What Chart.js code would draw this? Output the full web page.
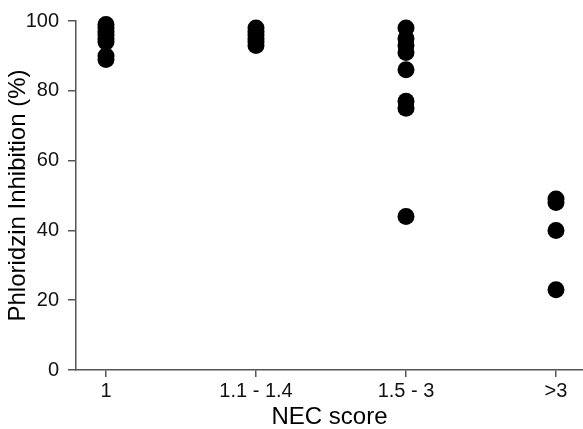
<!DOCTYPE html>
<html lang="en">
<head>
    <meta charset="UTF-8">
    <title>Phloridzin Inhibition vs NEC score</title>
    <script src="https://cdn.jsdelivr.net/npm/chart.js"></script>
    <style>
        html, body { margin: 0; padding: 0; background: #fff; }
        #wrap { width: 583px; height: 429px; }
    </style>
</head>
<body>
    <div id="wrap"><canvas id="grafico"></canvas></div>
<script>
    // categories on the x axis and the inhibition values (%) read for each group
    const categories = ["1", "1.1 - 1.4", "1.5 - 3", ">3"];
    const nec1 = [99, 98, 97, 96, 95, 94, 90, 89];
    const nec2 = [98, 97, 96, 95, 94, 93];
    const nec3 = [98, 95, 93, 91, 86, 77, 75, 44];
    const nec4 = [49, 48, 40, 23];
    const yTicks = [0, 20, 40, 60, 80, 100];

    const groups = [nec1, nec2, nec3, nec4];
    const points = [];
    groups.forEach((vals, i) => {
        vals.forEach(v => points.push({ x: i + 1, y: v }));
    });

    const axisColor = "#555";
    const ctx = document.getElementById("grafico").getContext("2d");

    new Chart(ctx, {
        type: "scatter",
        data: {
            datasets: [{
                data: points,
                backgroundColor: "#000",
                borderColor: "#000",
                borderWidth: 0,
                pointRadius: 8.5,
                pointHoverRadius: 8.5,
                clip: false
            }]
        },
        options: {
            responsive: true,
            maintainAspectRatio: false,
            animation: false,
            layout: { autoPadding: false, padding: { top: 20, right: 0, left: 0, bottom: 0 } },
            plugins: {
                legend: { display: false },
                tooltip: { enabled: false }
            },
            scales: {
                x: {
                    type: "linear",
                    min: 0.8,
                    max: 4.18,
                    afterFit: s => { s.height = 59; },
                    afterBuildTicks: s => { s.ticks = categories.map((c, i) => ({ value: i + 1 })); },
                    ticks: {
                        callback: v => categories[v - 1],
                        color: "#111",
                        padding: 2,
                        maxRotation: 0,
                        font: { family: "Liberation Sans, Arial, sans-serif", size: 20 }
                    },
                    grid: { drawOnChartArea: false, drawTicks: true, tickLength: 7, color: axisColor, lineWidth: 1.5 },
                    border: { display: true, color: axisColor, width: 1.5 },
                    title: {
                        display: true,
                        text: "NEC score",
                        color: "#000",
                        padding: { top: 0, bottom: 0 },
                        font: { family: "Liberation Sans, Arial, sans-serif", size: 24, lineHeight: 1 }
                    }
                },
                y: {
                    min: 0,
                    max: 100,
                    afterFit: s => { s.width = 76; },
                    afterBuildTicks: s => { s.ticks = yTicks.map(v => ({ value: v })); },
                    ticks: {
                        color: "#111",
                        padding: 9,
                        font: { family: "Liberation Sans, Arial, sans-serif", size: 20 }
                    },
                    grid: { drawOnChartArea: false, drawTicks: true, tickLength: 8, color: axisColor, lineWidth: 1.5 },
                    border: { display: true, color: axisColor, width: 1.5 },
                    title: {
                        display: true,
                        text: "Phloridzin Inhibition (%)",
                        color: "#000",
                        padding: { top: 6.5, bottom: 0 },
                        font: { family: "Liberation Sans, Arial, sans-serif", size: 24, lineHeight: 1 }
                    }
                }
            }
        }
    });
</script>
</body>
</html>
